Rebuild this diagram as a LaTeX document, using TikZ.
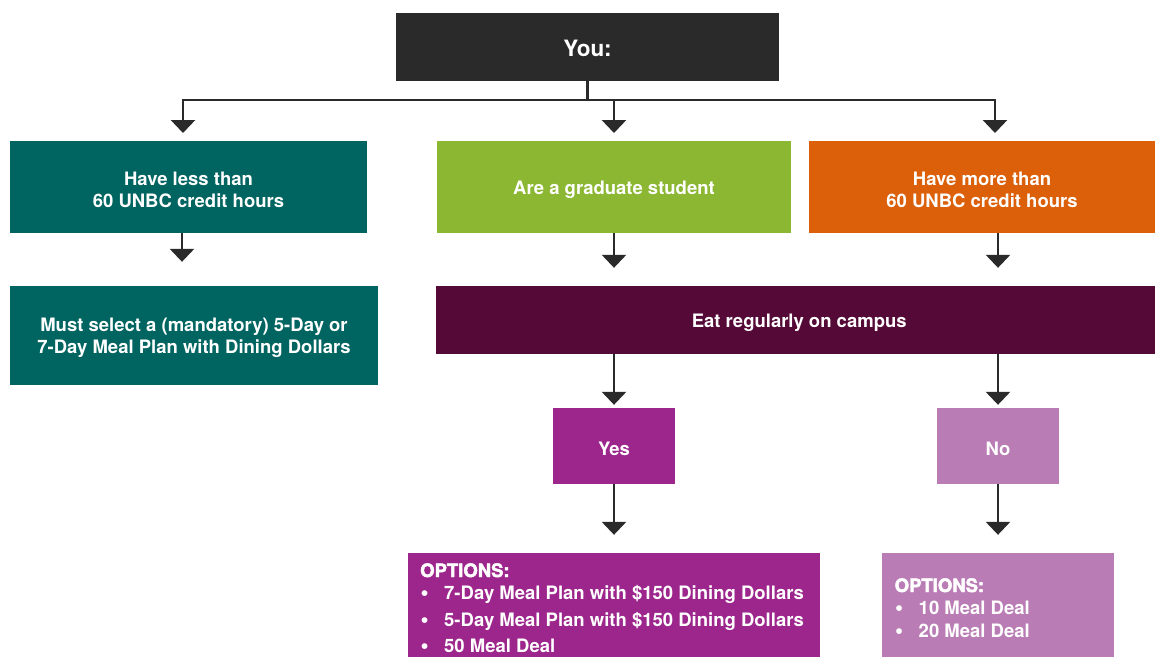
\documentclass[tikz,border=0pt]{standalone}
\usepackage{fontspec}
\setmainfont{TeX Gyre Heros}
\newfontfamily\heavyfont{TeX Gyre Heros}[BoldFeatures={FakeBold=2.5}]
\usetikzlibrary{arrows.meta}
\definecolor{cyou}{HTML}{2A2A2A}
\definecolor{cteal}{HTML}{006460}
\definecolor{cgreen}{HTML}{8BB733}
\definecolor{corange}{HTML}{DC5F09}
\definecolor{cmaroon}{HTML}{540936}
\definecolor{cyes}{HTML}{9C268C}
\definecolor{cno}{HTML}{B97CB4}
\definecolor{cline}{HTML}{2A2A2A}
\tikzset{
  box/.style={rectangle, inner sep=0pt},
  boxtext/.style={inner sep=0pt, text=white, align=center, yshift=-2.5pt,
    font=\fontsize{18.5}{22}\selectfont\bfseries},
  line/.style={draw=cline, line width=2.8pt},
  arr/.style={line, -{Triangle[width=24pt,length=13pt]}},
  opt/.style={inner sep=0pt, anchor=base west, text=white,
    font=\fontsize{18.5}{22}\selectfont\bfseries},
  bul/.style={opt, font=\fontsize{23}{22}\selectfont\bfseries},
  opthead/.style={opt, font=\fontsize{18.5}{22}\selectfont\heavyfont\bfseries},
}
\begin{document}
\begin{tikzpicture}[x=1pt,y=-1pt]
\useasboundingbox (0,0) rectangle (1155,657);
\fill[white] (0,0) rectangle (1155,657);
% boxes
\node[box, fill=cyou, minimum width=383pt, minimum height=68pt,
  label={[boxtext, yshift=1pt, font=\fontsize{22.5}{26}\selectfont\bfseries]center:You:}] (you) at (587.5,46.5) {};
\node[box, fill=cteal, minimum width=357pt, minimum height=92pt,
  label={[boxtext]center:Have less than\\60 UNBC credit hours}] (b1) at (188.5,187) {};
\node[box, fill=cgreen, minimum width=354pt, minimum height=92pt,
  label={[boxtext]center:Are a graduate student}] (b2) at (614,187) {};
\node[box, fill=corange, minimum width=346pt, minimum height=92pt,
  label={[boxtext]center:Have more than\\60 UNBC credit hours}] (b3) at (982,187) {};
\node[box, fill=cteal, minimum width=368pt, minimum height=99pt,
  label={[boxtext]center:Must select a (mandatory) 5-Day or\\7-Day Meal Plan with Dining Dollars}] (b4) at (194,335.5) {};
\node[box, fill=cmaroon, minimum width=719.5pt, minimum height=68pt,
  label={[boxtext, xshift=4pt]center:Eat regularly on campus}] (eat) at (795.25,320) {};
\node[box, fill=cyes, minimum width=122pt, minimum height=76pt,
  label={[boxtext]center:Yes}] (yes) at (614,446) {};
\node[box, fill=cno, minimum width=122pt, minimum height=76pt,
  label={[boxtext]center:No}] (no) at (998,446) {};
\node[box, fill=cyes, minimum width=412pt, minimum height=104pt] (oy) at (614,605) {};
\node[box, fill=cno, minimum width=232pt, minimum height=104pt] (on) at (998,605) {};
% options text
\node[opthead] (oyh) at (420,577) {OPTIONS:};
\node[bul] (oyb1) at (420.5,600) {\textbullet};
\node[opt] (oyt1) at (444,599) {7-Day Meal Plan with \$150 Dining Dollars};
\node[bul] (oyb2) at (420.5,627) {\textbullet};
\node[opt] (oyt2) at (444,626) {5-Day Meal Plan with \$150 Dining Dollars};
\node[bul] (oyb3) at (420.5,653) {\textbullet};
\node[opt] (oyt3) at (444,652) {50 Meal Deal};
\node[opthead] (onh) at (894.5,592) {OPTIONS:};
\node[bul] (onb1) at (895,615) {\textbullet};
\node[opt] (ont1) at (918.5,614) {10 Meal Deal};
\node[bul] (onb2) at (895,638) {\textbullet};
\node[opt] (ont2) at (918.5,637) {20 Meal Deal};
% connectors
\coordinate (jn) at (587.5,100);
\coordinate (t1) at (183,133);
\coordinate (t2) at (614,133);
\coordinate (t3) at (995,133);
\coordinate (c1) at (182,0);
\coordinate (c3) at (998,0);
\draw[line] (you.south) -- (jn);
\draw[arr] (jn) -| (t1);
\draw[arr] (jn) -| (t2);
\draw[arr] (jn) -| (t3);
\draw[arr, shorten >=24pt] (b1.south -| c1) -- (b4.north -| c1);
\draw[arr, shorten >=18pt] (b2.south) -- (eat.north -| b2);
\draw[arr, shorten >=18pt] (b3.south -| c3) -- (eat.north -| c3);
\draw[arr, shorten >=3pt] (eat.south -| yes) -- (yes.north);
\draw[arr, shorten >=3pt] (eat.south -| no) -- (no.north);
\draw[arr, shorten >=18pt] (yes.south) -- (oy.north);
\draw[arr, shorten >=18pt] (no.south) -- (on.north);
\end{tikzpicture}
\end{document}
